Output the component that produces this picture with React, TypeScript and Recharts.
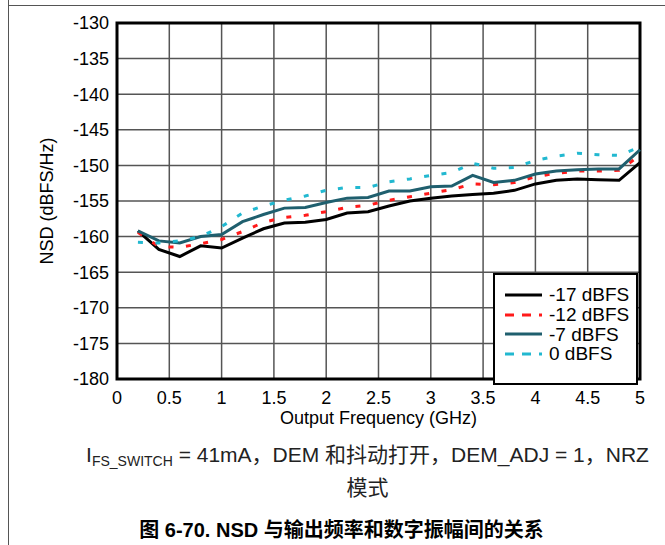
import { LineChart, Line, XAxis, YAxis, CartesianGrid, ReferenceArea, Label } from "recharts";

const FONT = '"Liberation Sans", Arial, "Noto Sans CJK SC", sans-serif';

// output frequency, GHz
const freq = [0.2, 0.4, 0.6, 0.8, 1.0, 1.2, 1.4, 1.6, 1.8, 2.0, 2.2, 2.4, 2.6, 2.8, 3.0, 3.2, 3.4, 3.6, 3.8, 4.0, 4.2, 4.4, 4.6, 4.8, 5.0];

// NSD, dBFS/Hz
const nsdM17 = [-159.2, -161.8, -162.8, -161.3, -161.6, -160.2, -158.9, -158.1, -158.0, -157.6, -156.7, -156.5, -155.7, -155.0, -154.6, -154.3, -154.1, -153.9, -153.5, -152.6, -152.1, -151.9, -152.0, -152.1, -149.6];
const nsdM12 = [-159.4, -161.4, -161.5, -161.0, -160.4, -159.3, -158.0, -157.3, -157.0, -156.5, -155.9, -155.6, -154.9, -154.4, -153.9, -153.4, -152.6, -152.7, -152.4, -151.6, -151.1, -150.8, -150.8, -150.7, -148.6];
const nsdM7 = [-159.2, -160.6, -160.9, -160.0, -159.7, -157.9, -156.9, -156.0, -155.9, -155.2, -154.6, -154.5, -153.6, -153.6, -153.0, -152.9, -151.4, -152.4, -152.1, -151.2, -150.8, -150.6, -150.5, -150.5, -147.8];
const nsd0 = [-160.8, -160.9, -160.6, -160.0, -158.6, -156.7, -155.7, -154.9, -154.3, -153.5, -153.1, -153.1, -152.3, -151.9, -151.4, -151.0, -149.7, -150.4, -150.3, -149.3, -148.7, -148.3, -148.5, -148.6, -147.4];

const xTicks = [0, 0.5, 1, 1.5, 2, 2.5, 3, 3.5, 4, 4.5, 5];
const yTicks = [-180, -175, -170, -165, -160, -155, -150, -145, -140, -135, -130];

const series = [
  { key: "m17", name: "-17 dBFS", color: "#000000", dash: undefined },
  { key: "m12", name: "-12 dBFS", color: "#ff1a1a", dash: "5 12.5" },
  { key: "m7", name: "-7 dBFS", color: "#1f5f6e", dash: undefined },
  { key: "z0", name: "0 dBFS", color: "#22b8d0", dash: "5 12.5" },
];

const rows = freq.map((f, i) => ({
  f,
  m17: nsdM17[i],
  m12: nsdM12[i],
  m7: nsdM7[i],
  z0: nsd0[i],
}));

function YTitle() {
  return (
    <text
      x={47}
      y={201}
      transform="rotate(-90 47 201)"
      textAnchor="middle"
      dominantBaseline="central"
      fontSize={18}
      fill="#000"
      fontFamily={FONT}
    >
      NSD (dBFS/Hz)
    </text>
  );
}

function LegendBox() {
  return (
    <div
      style={{
        position: "absolute",
        left: 493,
        top: 273,
        width: 141,
        height: 98,
        border: "2px solid #000",
        background: "#fff",
        fontFamily: FONT,
        fontSize: 19,
        paddingTop: 10,
        boxSizing: "content-box",
      }}
    >
      {series.map((s) => (
        <div key={s.key} style={{ display: "flex", alignItems: "center", height: 19.7 }}>
          <svg width={46} height={10} style={{ marginLeft: 8 }}>
            <line
              x1={2}
              x2={39}
              y1={5}
              y2={5}
              stroke={s.color}
              strokeWidth={3}
              strokeDasharray={s.dash ? "9 8" : undefined}
            />
          </svg>
          <span style={{ color: "#000", lineHeight: "19px" }}>{s.name}</span>
        </div>
      ))}
    </div>
  );
}

export default function App() {
  return (
    <div style={{ position: "absolute", left: 0, top: 0, width: 665, height: 545, background: "#fff", fontFamily: FONT }}>
      <div style={{ position: "absolute", left: 8, top: 0, width: 1, height: 545, background: "#555" }} />
      <div style={{ position: "absolute", left: 8, top: 5, width: 657, height: 1, background: "#555" }} />

      <div style={{ position: "absolute", left: 0, top: 0 }}>
        <LineChart width={665} height={432} data={rows} margin={{ top: 23, right: 25, left: 0, bottom: 0 }}>
          <CartesianGrid stroke="#555" strokeWidth={1.5} />
          <XAxis
            dataKey="f"
            type="number"
            domain={[0, 5]}
            ticks={xTicks}
            tickFormatter={(v) => String(v)}
            tickLine={false}
            axisLine={false}
            tickMargin={6}
            tick={{ fontSize: 18, fill: "#000", fontFamily: FONT }}
            height={53}
          >
            <Label
              value="Output Frequency (GHz)"
              position="insideBottom"
              offset={8}
              style={{ fontSize: 18, fill: "#000", fontFamily: FONT }}
            />
          </XAxis>
          <YAxis
            type="number"
            domain={[-180, -130]}
            ticks={yTicks}
            tickLine={false}
            axisLine={false}
            width={117}
            tick={{ fontSize: 18, fill: "#000", fontFamily: FONT }}
          >
            <Label content={() => <YTitle />} />
          </YAxis>
          {series.map((s) => (
            <Line
              key={s.key}
              dataKey={s.key}
              name={s.name}
              stroke={s.color}
              strokeWidth={3}
              strokeDasharray={s.dash}
              dot={false}
              isAnimationActive={false}
            />
          ))}
          <ReferenceArea x1={0} x2={5} y1={-180} y2={-130} fill="none" stroke="#000" strokeWidth={3} />
        </LineChart>
      </div>

      <LegendBox />

      <div
        style={{
          position: "absolute",
          left: 70,
          top: 438,
          width: 595,
          textAlign: "center",
          fontSize: 21,
          lineHeight: "33px",
          color: "#222",
        }}
      >
        I<sub style={{ fontSize: 14, verticalAlign: "-4px", lineHeight: 0 }}>FS_SWITCH</sub> = 41mA，DEM 和抖动打开，DEM_ADJ = 1，NRZ
        <br />
        模式
      </div>
      <div
        style={{
          position: "absolute",
          left: 0,
          top: 514,
          width: 683,
          textAlign: "center",
          fontSize: 20,
          fontWeight: "bold",
          color: "#000",
        }}
      >
        图 6-70. NSD 与输出频率和数字振幅间的关系
      </div>
    </div>
  );
}
